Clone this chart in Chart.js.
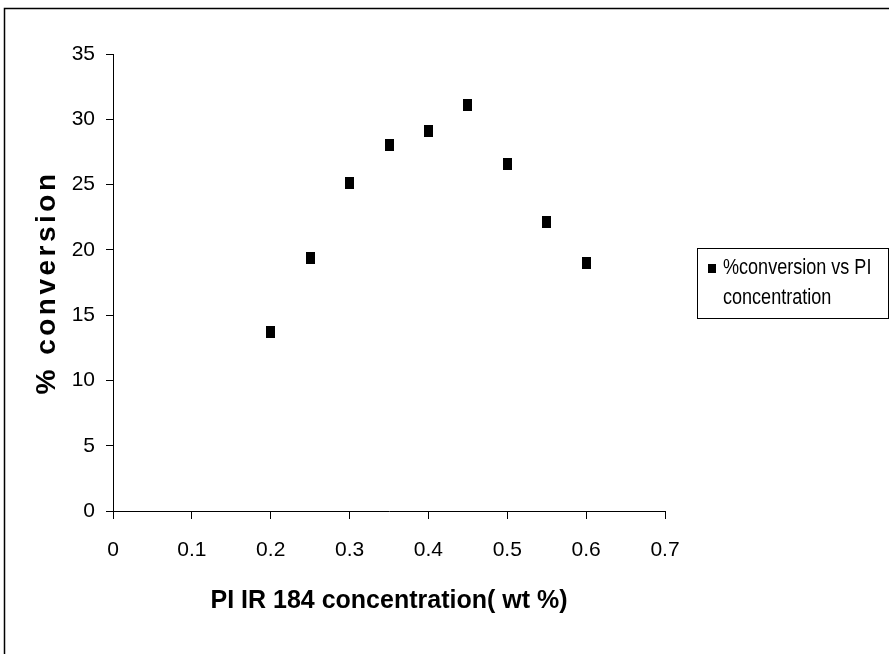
<!DOCTYPE html>
<html>
<head>
<meta charset="utf-8">
<script src="https://cdn.jsdelivr.net/npm/chart.js@4/dist/chart.umd.min.js"></script>
<style>
  html, body { margin: 0; padding: 0; background: #fff; }
  canvas { display: block; }
</style>
</head>
<body>
<canvas id="conversionChart" width="889" height="654"></canvas>
<script>
// data
const concentrations = [0.2, 0.25, 0.3, 0.35, 0.4, 0.45, 0.5, 0.55, 0.6];
const conversion = [13.7, 19.4, 25.1, 28.0, 29.1, 31.1, 26.6, 22.1, 19.0];
const xTicks = [0, 0.1, 0.2, 0.3, 0.4, 0.5, 0.6, 0.7];
const yTicks = [0, 5, 10, 15, 20, 25, 30, 35];
const seriesLabel = "%conversion vs PI concentration";
const yTitle = "% conversion";

const fontFam = "'Liberation Sans', Arial, sans-serif";

// little black rectangle used as the marker
function makeMarker(w, h) {
    let c = document.createElement("canvas");
    c.width = w;
    c.height = h;
    let g = c.getContext("2d");
    g.fillStyle = "#000";
    g.fillRect(0, 0, w, h);
    return c;
}

// outer frame of the figure
const framePlugin = {
    id: "frame",
    beforeDraw(chart) {
        let ctx = chart.ctx;
        ctx.save();
        ctx.fillStyle = "#fff";
        ctx.fillRect(0, 0, chart.width, chart.height);
        ctx.strokeStyle = "#000";
        ctx.lineWidth = 1.5;
        ctx.strokeRect(4.5, 8.5, chart.width + 10, chart.height + 10);
        ctx.restore();
    }
};

// y title drawn by hand so it can get the spaced-out letters
const yTitlePlugin = {
    id: "yTitle",
    afterDraw(chart) {
        let ctx = chart.ctx;
        let area = chart.chartArea;
        ctx.save();
        ctx.translate(47, (area.top + area.bottom) / 2);
        ctx.rotate(-Math.PI / 2);
        ctx.font = "bold 28px " + fontFam;
        if ("letterSpacing" in ctx) ctx.letterSpacing = "3.5px";
        ctx.fillStyle = "#000";
        ctx.textAlign = "center";
        ctx.textBaseline = "middle";
        ctx.fillText(yTitle, 0, 0);
        ctx.restore();
    }
};

// boxed legend on the right, text wrapped on two lines
const boxLegend = {
    id: "boxLegend",
    afterDraw(chart) {
        let ctx = chart.ctx;
        let ds = chart.data.datasets[0];
        let squeeze = 0.82;
        ctx.save();
        ctx.font = "22px " + fontFam;
        let words = ds.label.split(" ");
        let lines = [], cur = "";
        words.forEach(w => {
            let t = cur ? cur + " " + w : w;
            if (ctx.measureText(t).width * squeeze > 158 && cur) { lines.push(cur); cur = w; }
            else cur = t;
        });
        lines.push(cur);

        let left = 697, top = 248, width = 191, height = 70;
        ctx.strokeStyle = "#000";
        ctx.lineWidth = 1;
        ctx.strokeRect(left + 0.5, top + 0.5, width, height);

        ctx.fillStyle = "#000";
        ctx.fillRect(708, 264, 8, 9);

        ctx.textBaseline = "middle";
        lines.forEach((l, i) => {
            ctx.save();
            ctx.translate(723, 268 + i * 30);
            ctx.scale(squeeze, 1);
            ctx.fillText(l, 0, 0);
            ctx.restore();
        });
        ctx.restore();
    }
};

let ctx = document.getElementById("conversionChart").getContext("2d");
new Chart(ctx, {
    type: "scatter",
    data: {
        datasets: [{
            label: seriesLabel,
            data: concentrations.map((x, i) => ({ x: x, y: conversion[i] })),
            pointStyle: makeMarker(9, 12),
            backgroundColor: "#000",
            borderColor: "#000"
        }]
    },
    options: {
        responsive: false,
        animation: false,
        events: [],
        layout: { padding: { left: 0, top: 54, right: 224, bottom: 0 } },
        plugins: {
            legend: { display: false },
            tooltip: { enabled: false }
        },
        scales: {
            x: {
                type: "linear",
                min: 0,
                max: 0.7,
                afterBuildTicks: s => { s.ticks = xTicks.map(v => ({ value: v })); },
                afterFit: s => { s.height = 143; },
                border: { display: true, color: "#000", width: 1 },
                grid: { drawOnChartArea: false, drawTicks: true, tickLength: 8, color: "#000" },
                ticks: {
                    color: "#000",
                    font: { family: fontFam, size: 21 },
                    padding: 19,
                    maxRotation: 0,
                    callback: v => String(v)
                },
                title: {
                    display: true,
                    text: "PI IR 184 concentration( wt %)",
                    color: "#000",
                    font: { family: fontFam, size: 25, weight: "bold" },
                    padding: { top: 0, bottom: 38 }
                }
            },
            y: {
                type: "linear",
                min: 0,
                max: 35,
                afterBuildTicks: s => { s.ticks = yTicks.map(v => ({ value: v })); },
                afterFit: s => { s.width = 113; },
                border: { display: true, color: "#000", width: 1 },
                grid: { drawOnChartArea: false, drawTicks: true, tickLength: 7, color: "#000" },
                ticks: {
                    color: "#000",
                    font: { family: fontFam, size: 21 },
                    padding: 11,
                    callback: v => String(v)
                },
                title: { display: false }
            }
        }
    },
    plugins: [framePlugin, yTitlePlugin, boxLegend]
});
</script>
</body>
</html>
